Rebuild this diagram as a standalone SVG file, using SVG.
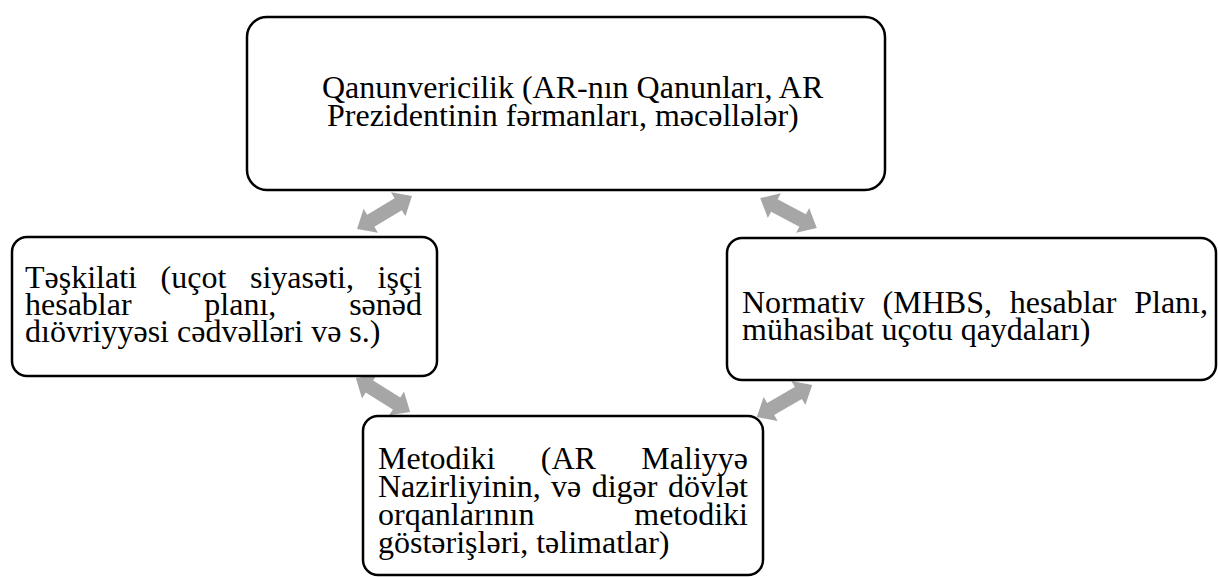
<svg xmlns="http://www.w3.org/2000/svg" xmlns:xlink="http://www.w3.org/1999/xlink" width="1218" height="577" viewBox="0 0 1218 577">
<style>
.box{fill:#fff;stroke:#000;stroke-width:2.5}
.t{font-family:"Liberation Serif","Times New Roman",serif;font-size:32px;fill:#000}
.arr{fill:#a6a6a6}
</style>
<defs>
<polygon id="dbl" points="-32,0 -16,-14 -16,-7 16,-7 16,-14 32,0 16,14 16,7 -16,7 -16,14"/>
</defs>
<rect width="1218" height="577" fill="#fff"/>
<g id="connectors" class="arr">
<use xlink:href="#dbl" transform="translate(384.5,212.5) rotate(-31)"/>
<use xlink:href="#dbl" transform="translate(788.5,213) rotate(27.8)"/>
<use xlink:href="#dbl" transform="translate(383,395) rotate(32)"/>
<use xlink:href="#dbl" transform="translate(784.5,401) rotate(-30)"/>
</g>
<g id="qanunvericilik">
<rect class="box" x="247" y="17" width="638" height="173" rx="20"/>
<text class="t"><tspan x="322" y="98">Qanunvericilik (AR-nın Qanunları, AR</tspan><tspan x="327" y="126">Prezidentinin fərmanları, məcəllələr)</tspan></text>
</g>
<g id="teskilati">
<rect class="box" x="12" y="237" width="425" height="139" rx="15"/>
<text class="t"><tspan x="25" y="288">Təşkilati</tspan><tspan x="160.6" y="288">(uçot</tspan><tspan x="250" y="288">siyasəti,</tspan><tspan x="422" y="288" text-anchor="end">işçi</tspan><tspan x="25" y="315">hesablar</tspan><tspan x="204.3" y="315">planı,</tspan><tspan x="422" y="315" text-anchor="end">sənəd</tspan><tspan x="25" y="342">dıövriyyəsi cədvəlləri və s.)</tspan></text>
</g>
<g id="normativ">
<rect class="box" x="727" y="238" width="489" height="142" rx="15"/>
<text class="t"><tspan x="742" y="313">Normativ</tspan><tspan x="882.6" y="313">(MHBS,</tspan><tspan x="1009.8" y="313">hesablar</tspan><tspan x="1208" y="313" text-anchor="end">Planı,</tspan><tspan x="742" y="340">mühasibat uçotu qaydaları)</tspan></text>
</g>
<g id="metodiki">
<rect class="box" x="363" y="416" width="400" height="159" rx="15"/>
<text class="t"><tspan x="378" y="469">Metodiki</tspan><tspan x="540.8" y="469">(AR</tspan><tspan x="748" y="469" text-anchor="end">Maliyyə</tspan><tspan x="378" y="497">Nazirliyinin,</tspan><tspan x="551.1" y="497">və</tspan><tspan x="591.7" y="497">digər</tspan><tspan x="748" y="497" text-anchor="end">dövlət</tspan><tspan x="378" y="525">orqanlarının</tspan><tspan x="748" y="525" text-anchor="end">metodiki</tspan><tspan x="378" y="553">göstərişləri, təlimatlar)</tspan></text>
</g>
</svg>
